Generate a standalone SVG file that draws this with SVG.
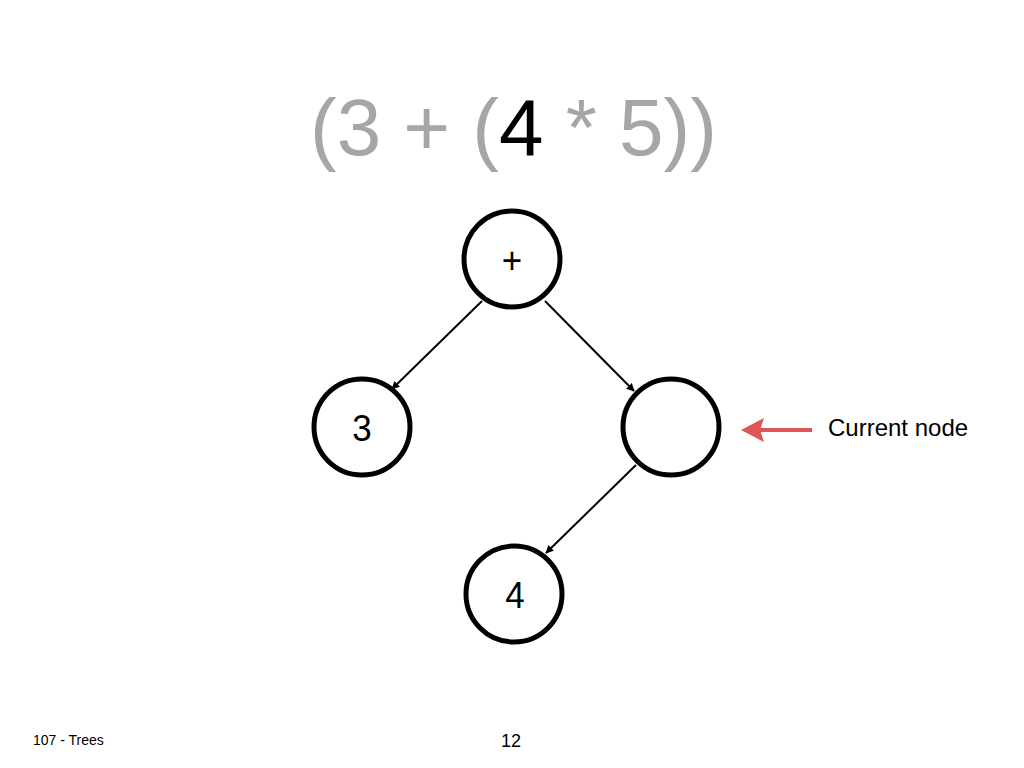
<svg xmlns="http://www.w3.org/2000/svg" width="1024" height="768" viewBox="0 0 1024 768">
<defs>
<style>
.node{fill:#fff;stroke:#000;stroke-width:5}
.lbl{font-family:"Liberation Sans",Arial,sans-serif;font-size:35px;fill:#000;text-anchor:middle}
.edge{stroke:#000;stroke-width:2;fill:none;marker-end:url(#ah)}
</style>
<marker id="ah" viewBox="0 0 10 10" refX="9" refY="5" markerWidth="4" markerHeight="4" orient="auto" markerUnits="strokeWidth">
<path d="M0,0 L10,5 L0,10 z" fill="#000"/>
</marker>
</defs>
<rect width="1024" height="768" fill="#fff"/>
<text x="310" y="155" font-family="'Liberation Sans',Arial,sans-serif" font-size="80" fill="#A6A6A6">(3 + (<tspan fill="#000">4</tspan> * 5))</text>
<g id="connectors">
<line class="edge" x1="482" y1="301" x2="392" y2="389"/>
<line class="edge" x1="545" y1="301" x2="634" y2="391"/>
<line class="edge" x1="636" y1="465" x2="546" y2="553"/>
</g>
<g id="node-plus"><circle class="node" cx="512" cy="259" r="48"/><text class="lbl" transform="translate(512,273) scale(1,1.08)">+</text></g>
<g id="node-3"><circle class="node" cx="362" cy="427" r="48"/><text class="lbl" transform="translate(362,441) scale(1,1.08)">3</text></g>
<g id="node-empty"><circle class="node" cx="671" cy="427" r="48"/></g>
<g id="node-4"><circle class="node" cx="514" cy="594" r="48"/><text class="lbl" transform="translate(515,608) scale(1,1.08)">4</text></g>
<g id="current">
<line x1="812" y1="430" x2="758" y2="430" stroke="#E05555" stroke-width="4"/>
<path d="M741,430 L764,418 L760,430 L764,442 z" fill="#E05555"/>
<text x="828" y="436" font-family="'Liberation Sans',Arial,sans-serif" font-size="24" fill="#000">Current node</text>
</g>
<text x="33" y="745" font-family="'Liberation Sans',Arial,sans-serif" font-size="14" fill="#000">107 - Trees</text>
<text x="511" y="747" font-family="'Liberation Sans',Arial,sans-serif" font-size="18" fill="#000" text-anchor="middle">12</text>
</svg>
